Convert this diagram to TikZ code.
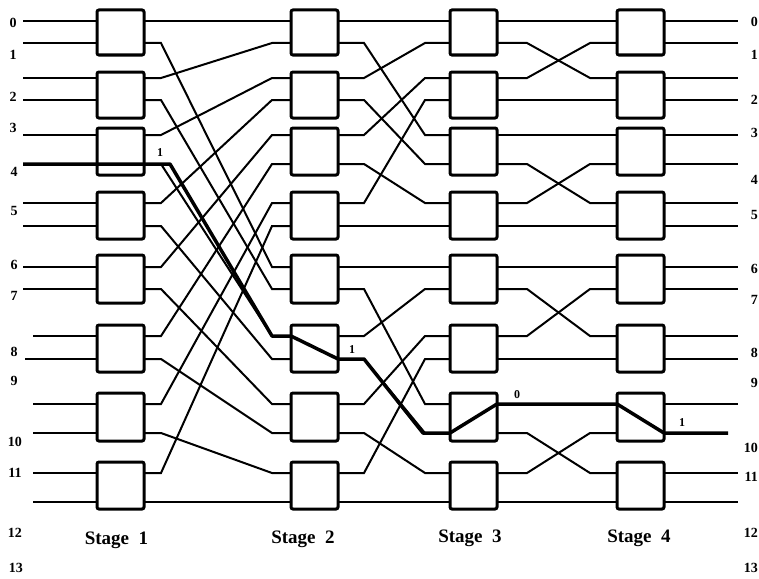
\documentclass[tikz,border=0pt]{standalone}
\usepackage{fontspec}
\setmainfont{Liberation Serif}
\usetikzlibrary{calc}
\begin{document}
\begin{tikzpicture}[x=1pt,y=-1pt,
  wire/.style={line width=2pt},
  hot/.style={line width=3.5pt, line join=round},
  sw/.style={draw, line width=3pt, rounded corners=2pt, minimum width=47pt, inner sep=0pt},
  num/.style={font=\bfseries\fontsize{14}{14}\selectfont, inner sep=0pt},
  tag/.style={font=\bfseries\fontsize{12}{12}\selectfont, inner sep=0pt},
  stg/.style={font=\bfseries\fontsize{19}{19}\selectfont, inner sep=0pt}]
\useasboundingbox (0,0) rectangle (759,578);
% port coordinates
\foreach \y [count=\k from 0] in {21,43,78,100,135,164,203,226,267,289,336,359,404,433,473,502} {
  \foreach \s/\L in {1/97,2/291,3/450,4/617} {
    \coordinate (i\s-\k) at (\L,\y);
    \coordinate (o\s-\k) at (\L+47,\y);
  }
}
% inputs and outputs
\foreach \k/\xs in {0/23,1/23,2/23,3/23,4/23,5/23,6/23,7/23,8/23,9/23,10/33,11/25,12/33,13/33,14/33,15/33} {
  \coordinate (in-\k) at ($(i1-\k)+(\xs-97,0)$);
}
\foreach \k in {0,...,15} {
  \ifnum\k=13 \coordinate (out-\k) at ($(o4-\k)+(64,0)$);
  \else \coordinate (out-\k) at ($(o4-\k)+(74,0)$); \fi
  \draw[wire] (in-\k) -- (i1-\k);
  \draw[wire] (o4-\k) -- (out-\k);
}
% inter-stage unshuffle connections
\foreach \s/\n/\a/\b in {1/16/17/19,2/8/26/25,3/4/30/27} {
  \foreach \w in {0,...,15} {
    \pgfmathtruncatemacro\g{\n*floor(\w/\n)}
    \pgfmathtruncatemacro\r{\w-\g}
    \pgfmathtruncatemacro\d{\g + (mod(\r,2)==0 ? \r/2 : \n/2 + (\r-1)/2)}
    \pgfmathtruncatemacro\t{\s+1}
    \ifnum\d=\w
      \draw[wire] (o\s-\w) -- (i\t-\w);
    \else
      \draw[wire] (o\s-\w) -- ++(\a,0) -- ([xshift=-\b pt]i\t-\d) -- (i\t-\d);
    \fi
  }
}
% switch boxes
\foreach \s/\c in {1/120.5,2/314.5,3/473.5,4/640.5} {
  \foreach \tp/\bt [count=\k] in {10/55,72/118,128/175,192/239,255/303,325/372,393/441,462/509} {
    \pgfmathsetmacro\h{\bt-\tp}
    \pgfmathsetmacro\m{(\bt+\tp)/2}
    \node[sw, minimum height=\h pt] (b\s-\k) at (\c,\m) {};
  }
}
% highlighted path
\draw[hot] (in-5) -- (i1-5) -- (o1-5) -- ++(26,0) -- ([xshift=-19pt]i2-10) -- (i2-10)
  -- (o2-11) -- ++(26,0) -- ([xshift=-27pt]i3-13) -- (i3-13) -- (o3-12) -- (i4-12)
  -- (o4-13) -- (out-13);
\node[tag] (t1) at (160,153) {1};
\node[tag] (t2) at (352,350) {1};
\node[tag] (t3) at (517,395) {0};
\node[tag] (t4) at (682,423) {1};
% left labels
\foreach \lab/\x/\y in {0/13/23,1/13/55,2/13/97,3/13/128,4/14/172,5/14/211,6/14/265,7/14/296,8/14/352,9/14/381,10/15/442,11/15/473,12/15/533,13/16/568} {
  \node[num] (l\lab) at (\x,\y) {\lab};
}
% right labels
\foreach \lab/\y in {0/22,1/55,2/100,3/133,4/180,5/215,6/269,7/300,8/353,9/383,10/448,11/477,12/533,13/568} {
  \node[num, anchor=east] (r\lab) at (758,\y) {\lab};
}
% stage labels
\node[stg] (st1) at (116.5,540) {Stage\ \ 1};
\node[stg] (st2) at (303,539) {Stage\ \ 2};
\node[stg] (st3) at (470,538) {Stage\ \ 3};
\node[stg] (st4) at (639,538) {Stage\ \ 4};
\end{tikzpicture}
\end{document}
